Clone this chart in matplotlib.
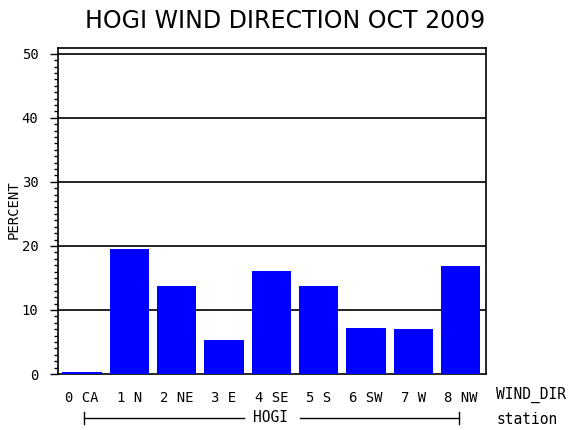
import matplotlib
matplotlib.use("Agg")
import matplotlib.pyplot as plt
from matplotlib.ticker import MultipleLocator

categories = ["0 CA", "1 N", "2 NE", "3 E", "4 SE", "5 S", "6 SW", "7 W", "8 NW"]
percent = [0.3, 19.5, 13.8, 5.3, 16.1, 13.8, 7.2, 7.0, 16.9]
station = "HOGI"
yticks = [0, 10, 20, 30, 40, 50]

fig = plt.figure(figsize=(5.7, 4.3), dpi=100)
ax = fig.add_axes([58/570, 1 - 374/430, (486-58)/570, (374-48)/430])

x = list(range(len(categories)))
ax.bar(x, percent, width=0.83, color="#0000ff", zorder=3)
ax.set_xlim(-0.51, 8.54)
ax.set_ylim(0, 50.9)

for v in yticks[1:]:
    ax.axhline(v, color="black", lw=1.2, zorder=2)

ax.set_yticks(yticks)
ax.set_yticklabels([str(v) for v in yticks], family="DejaVu Sans Mono", fontsize=10)
ax.yaxis.set_minor_locator(MultipleLocator(1))
ax.tick_params(axis="y", which="major", length=6, width=1, direction="out", pad=8)
ax.tick_params(axis="y", which="minor", length=3, width=1, direction="out")
ax.set_xticks(x)
ax.set_xticklabels(categories, family="DejaVu Sans Mono", fontsize=10)
ax.tick_params(axis="x", length=0, pad=12)
for s in ax.spines.values():
    s.set_linewidth(1.2)

fig.text(14/570, 1 - 210/430, "PERCENT", rotation=90, ha="center", va="center",
         family="DejaVu Sans Mono", fontsize=10)

fig.text(285/570, 1 - 21/430, "HOGI WIND DIRECTION OCT 2009", ha="center", va="center",
         fontsize=17, family="DejaVu Sans")
fig.text(496/570, 1 - 395/430, "WIND_DIR", ha="left", va="center",
         family="DejaVu Sans Mono", fontsize=10.5)
fig.text(496/570, 1 - 419/430, "station", ha="left", va="center",
         family="DejaVu Sans Mono", fontsize=10.5)

# station bracket
yb = 1 - 418/430
fig.add_artist(plt.Line2D([84/570, 244/570], [yb, yb], color="black", lw=1))
fig.add_artist(plt.Line2D([300/570, 459/570], [yb, yb], color="black", lw=1))
fig.add_artist(plt.Line2D([84/570, 84/570], [yb - 6/430, yb + 6/430], color="black", lw=1))
fig.add_artist(plt.Line2D([459/570, 459/570], [yb - 6/430, yb + 6/430], color="black", lw=1))
fig.text(271/570, yb, station, ha="center", va="center",
         family="DejaVu Sans Mono", fontsize=10.5)

fig.savefig("out.png", dpi=100)
